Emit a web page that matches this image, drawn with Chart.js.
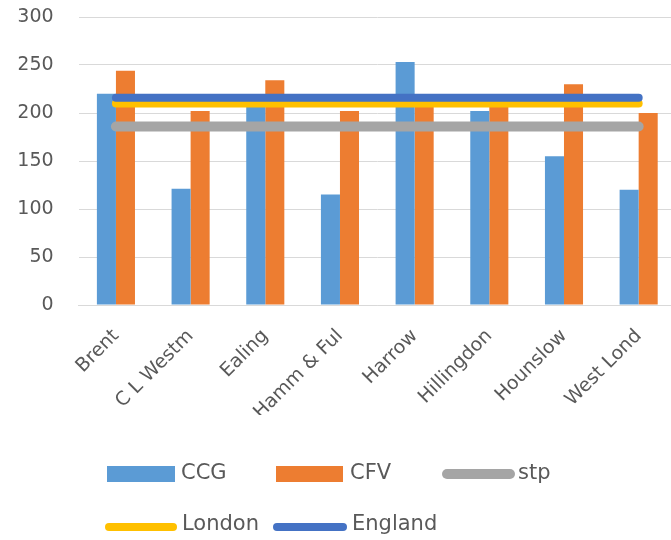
<!DOCTYPE html>
<html><head><meta charset="utf-8">
<script src="https://cdn.jsdelivr.net/npm/chart.js@4"></script>
<style>
html,body{margin:0;padding:0;background:#fff;overflow:hidden;}
#wrap{position:relative;width:700px;height:540px;}
</style></head><body>
<div id="wrap"><canvas id="c" width="700" height="540"></canvas></div>
<script>
const categories = ["Brent", "C L Westm", "Ealing", "Hamm & Ful", "Harrow", "Hillingdon", "Hounslow", "West Lond"];
const ccgValues = [220, 121, 212, 115, 253, 202, 155, 120];
const cfvValues = [244, 202, 234, 202, 212, 212, 230, 200];
const stpValues = [186, 186, 186, 186, 186, 186, 186, 186];
const londonValues = [210, 210, 210, 210, 210, 210, 210, 210];
const englandValues = [216, 216, 216, 216, 216, 216, 216, 216];
const yTickValues = [0, 50, 100, 150, 200, 250, 300];

const FONT = "'DejaVu Sans', sans-serif";
const TXT = '#595959';

const legendPlugin = {
  id: 'manualLegend',
  afterDraw(chart, args, opts) {
    const ctx = chart.ctx;
    ctx.save();
    ctx.font = '21px ' + FONT;
    ctx.textBaseline = 'middle';
    ctx.textAlign = 'left';
    opts.items.forEach(it => {
      const ds = chart.data.datasets[it.index];
      if (it.kind === 'box') {
        ctx.fillStyle = ds.backgroundColor;
        ctx.fillRect(it.x0, it.y - it.h / 2, it.x1 - it.x0, it.h);
      } else {
        ctx.strokeStyle = ds.borderColor;
        ctx.lineWidth = it.w;
        ctx.lineCap = 'round';
        ctx.beginPath();
        ctx.moveTo(it.x0, it.y);
        ctx.lineTo(it.x1, it.y);
        ctx.stroke();
      }
      ctx.fillStyle = TXT;
      ctx.fillText(ds.label, it.tx, it.ty);
    });
    ctx.restore();
  }
};

new Chart(document.getElementById('c'), {
  type: 'bar',
  data: {
    labels: categories,
    datasets: [
      { type: 'bar', label: 'CCG', data: ccgValues, backgroundColor: '#5B9BD5', order: 3,
        barPercentage: 1, categoryPercentage: 0.51 },
      { type: 'bar', label: 'CFV', data: cfvValues, backgroundColor: '#ED7D31', order: 3,
        barPercentage: 1, categoryPercentage: 0.51 },
      { type: 'line', label: 'stp', data: stpValues, borderColor: '#A5A5A5', backgroundColor: '#A5A5A5',
        borderWidth: 10, pointRadius: 0, borderCapStyle: 'round', order: 2 },
      { type: 'line', label: 'London', data: londonValues, borderColor: '#FFC000', backgroundColor: '#FFC000',
        borderWidth: 8, pointRadius: 0, borderCapStyle: 'round', order: 1 },
      { type: 'line', label: 'England', data: englandValues, borderColor: '#4472C4', backgroundColor: '#4472C4',
        borderWidth: 8, pointRadius: 0, borderCapStyle: 'round', order: 0 }
    ]
  },
  options: {
    responsive: false,
    animation: false,
    devicePixelRatio: 1,
    layout: { padding: { top: 17, left: 18.6, right: 24, bottom: 125 } },
    plugins: {
      legend: { display: false },
      tooltip: { enabled: false },
      manualLegend: {
        items: [
          { index: 0, kind: 'box', x0: 107, x1: 175, y: 474, h: 16, tx: 181, ty: 474 },
          { index: 1, kind: 'box', x0: 276, x1: 343, y: 474, h: 16, tx: 350, ty: 474 },
          { index: 2, kind: 'line', x0: 447, x1: 510, y: 474, w: 10, tx: 518, ty: 474 },
          { index: 3, kind: 'line', x0: 109, x1: 173, y: 527, w: 8, tx: 182, ty: 525 },
          { index: 4, kind: 'line', x0: 277, x1: 343, y: 527, w: 8, tx: 352, ty: 525 }
        ]
      }
    },
    scales: {
      x: {
        type: 'category',
        offset: true,
        grid: { display: false, drawTicks: false },
        border: { display: true, color: '#D9D9D9', width: 1 },
        ticks: { minRotation: 45, maxRotation: 45, autoSkip: false, padding: 20,
                 font: { family: FONT, size: 19 }, color: TXT },
        afterFit: s => { s.height = 110; }
      },
      y: {
        min: 0, max: 300,
        grid: { color: '#D9D9D9', lineWidth: 1, drawTicks: false },
        border: { display: false },
        ticks: { padding: 25, font: { family: FONT, size: 19 }, color: TXT },
        afterBuildTicks: s => { s.ticks = yTickValues.map(v => ({ value: v })); },
        afterFit: s => { s.width = 60; s.paddingTop = 0; s.paddingBottom = 0; }
      }
    }
  },
  plugins: [legendPlugin]
});
</script>
</body></html>
